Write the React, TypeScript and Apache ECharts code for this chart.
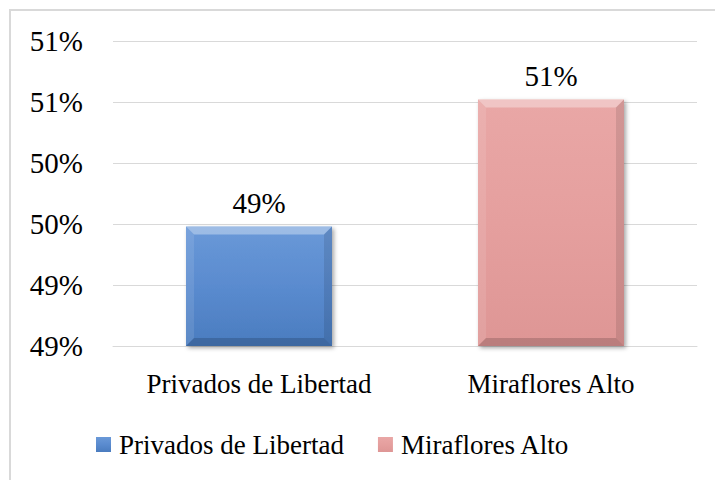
import React, { useEffect, useRef } from "react";
import * as echarts from "echarts";

const categories = ["Privados de Libertad", "Miraflores Alto"];
const seriesNames = ["Privados de Libertad", "Miraflores Alto"];
const values = [49.48, 50.52];
const axisMin = 48.5;
const axisMax = 51;
const axisInterval = 0.5;

const FONT = "Liberation Serif";

export default function App() {
  const ref = useRef<HTMLDivElement>(null);
  useEffect(() => {
    if (!ref.current) return;
    const chart = echarts.init(ref.current, undefined, { renderer: "svg" });
    const grads = [
      new echarts.graphic.LinearGradient(0, 0, 0, 1, [
        { offset: 0, color: "#6a99d8" },
        { offset: 0.5, color: "#5a8bcf" },
        { offset: 1, color: "#4a7cbf" },
      ]),
      new echarts.graphic.LinearGradient(0, 0, 0, 1, [
        { offset: 0, color: "#e9a7a6" },
        { offset: 0.5, color: "#e59f9e" },
        { offset: 1, color: "#de9695" },
      ]),
    ];
    const barSeries = seriesNames.map((name, i) => ({
      name,
      type: "bar",
      barWidth: "50%",
      barGap: "-100%",
      data: values.map((v, j) => (j === i ? v : null)),
      itemStyle: {
        color: grads[i],
        shadowBlur: 4,
        shadowOffsetX: 2,
        shadowOffsetY: 2,
        shadowColor: "rgba(0,0,0,0.35)",
      },
      label: {
        show: true,
        position: "top",
        distance: 9,
        fontFamily: FONT,
        fontSize: 29,
        color: "#000",
        formatter: (p: any) => Math.round(p.value) + "%",
      },
    }));
    const bevel = {
      type: "custom",
      silent: true,
      z: 3,
      data: values.map((v, i) => [i, v]),
      renderItem: (params: any, api: any) => {
        const idx = api.value(0);
        const val = api.value(1);
        const top = api.coord([idx, val]);
        const bot = api.coord([idx, axisMin]);
        const w = api.size([1, 0])[0] * 0.5;
        const x0 = top[0] - w / 2;
        const x1 = top[0] + w / 2;
        const y0 = top[1];
        const y1 = bot[1];
        const b = 8;
        return {
          type: "group",
          children: [
            {
              type: "polygon",
              shape: { points: [[x0, y0], [x1, y0], [x1 - b, y0 + b], [x0 + b, y0 + b]] },
              style: { fill: "rgba(255,255,255,0.35)" },
            },
            {
              type: "polygon",
              shape: { points: [[x0, y0], [x0 + b, y0 + b], [x0 + b, y1 - b], [x0, y1]] },
              style: { fill: "rgba(255,255,255,0.1)" },
            },
            {
              type: "polygon",
              shape: { points: [[x1, y0], [x1, y1], [x1 - b, y1 - b], [x1 - b, y0 + b]] },
              style: { fill: "rgba(0,0,0,0.1)" },
            },
            {
              type: "polygon",
              shape: { points: [[x0, y1], [x0 + b, y1 - b], [x1 - b, y1 - b], [x1, y1]] },
              style: { fill: "rgba(0,0,0,0.16)" },
            },
          ],
        };
      },
    };
    chart.setOption({
      animation: false,
      backgroundColor: "#fff",
      textStyle: { fontFamily: FONT },
      graphic: [
        {
          type: "rect",
          shape: { x: 10, y: 10, width: 740, height: 500 },
          style: { fill: "none", stroke: "#d9d9d9", lineWidth: 2 },
          silent: true,
        },
      ],
      grid: { left: 113, right: 18, top: 41, bottom: 134 },
      legend: {
        data: seriesNames,
        left: 91,
        top: 426,
        icon: "rect",
        itemWidth: 15,
        itemHeight: 15,
        itemGap: 34,
        textStyle: {
          fontFamily: FONT,
          fontSize: 27,
          color: "#000",
          padding: [0, 0, 0, 3],
        },
      },
      xAxis: {
        type: "category",
        data: categories,
        axisLine: { show: true, lineStyle: { color: "#d9d9d9", width: 1 } },
        axisTick: { show: false },
        axisLabel: { fontFamily: FONT, fontSize: 27, color: "#000", margin: 24, interval: 0 },
      },
      yAxis: {
        type: "value",
        min: axisMin,
        max: axisMax,
        interval: axisInterval,
        axisLine: { show: false },
        axisTick: { show: false },
        splitLine: { lineStyle: { color: "#d9d9d9", width: 1 } },
        axisLabel: {
          fontFamily: FONT,
          fontSize: 29,
          color: "#000",
          margin: 30,
          formatter: (v: number) => Math.round(v) + "%",
        },
      },
      series: [...barSeries, bevel],
    });
    return () => chart.dispose();
  }, []);
  return (
    <div
      ref={ref}
      style={{ position: "absolute", left: 0, top: 0, width: 715, height: 480 }}
    />
  );
}
